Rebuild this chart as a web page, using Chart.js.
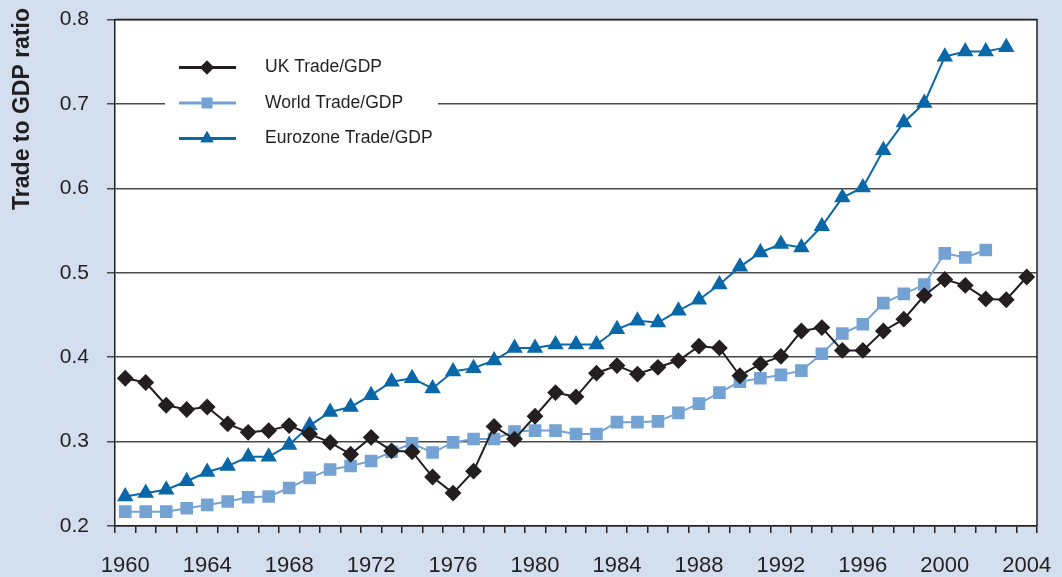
<!DOCTYPE html>
<html>
<head>
<meta charset="utf-8">
<script src="https://cdn.jsdelivr.net/npm/chart.js@4"></script>
<style>
  html, body { margin: 0; padding: 0; background: #d3dfee; }
  #wrap { width: 1062px; height: 577px; }
</style>
</head>
<body>
<div id="wrap"><canvas id="tradeChart" width="1062" height="577"></canvas></div>
<script>
/* =======================
   DATA
======================= */
const years = [];
for (let y = 1960; y <= 2004; y++) years.push(String(y));

const ukTrade = [
  0.375, 0.370, 0.343, 0.338, 0.341, 0.321, 0.311, 0.313, 0.319, 0.309,
  0.299, 0.285, 0.305, 0.289, 0.288, 0.258, 0.239, 0.265, 0.318, 0.303,
  0.330, 0.358, 0.353, 0.381, 0.390, 0.380, 0.388, 0.396, 0.413, 0.411,
  0.378, 0.392, 0.401, 0.431, 0.435, 0.408, 0.408, 0.431, 0.445, 0.473,
  0.492, 0.485, 0.469, 0.468, 0.495
];

const worldTrade = [
  0.217, 0.217, 0.217, 0.221, 0.225, 0.229, 0.234, 0.235, 0.245, 0.257,
  0.267, 0.271, 0.277, 0.288, 0.298, 0.287, 0.299, 0.303, 0.303, 0.312,
  0.313, 0.313, 0.309, 0.309, 0.323, 0.323, 0.324, 0.334, 0.345, 0.358,
  0.371, 0.375, 0.379, 0.384, 0.404, 0.428, 0.439, 0.464, 0.475, 0.486,
  0.523, 0.518, 0.527, null, null
];

const euroTrade = [
  0.235, 0.239, 0.243, 0.253, 0.264, 0.271, 0.282, 0.282, 0.296, 0.319,
  0.335, 0.341, 0.355, 0.371, 0.375, 0.363, 0.383, 0.387, 0.396, 0.411,
  0.411, 0.415, 0.415, 0.415, 0.433, 0.443, 0.441, 0.455, 0.468, 0.486,
  0.507, 0.524, 0.534, 0.530, 0.555, 0.589, 0.601, 0.645, 0.678, 0.701,
  0.756, 0.762, 0.762, 0.767, null
];

const yTicks = [0.2, 0.3, 0.4, 0.5, 0.6, 0.7, 0.8];
const labelYears = ["1960", "1964", "1968", "1972", "1976", "1980", "1984",
  "1988", "1992", "1996", "2000", "2004"];
const yTitle = "Trade to GDP ratio";

const FONT = "'Liberation Sans', Arial, sans-serif";

/* =======================
   PLUGINS
======================= */
const plotBackground = {
  id: "plotBackground",
  beforeDraw(chart) {
    const { ctx, chartArea } = chart;
    ctx.save();
    ctx.fillStyle = "#d3dfee";
    ctx.fillRect(0, 0, chart.width, chart.height);
    ctx.fillStyle = "#ffffff";
    ctx.fillRect(chartArea.left, chartArea.top,
      chartArea.right - chartArea.left, chartArea.bottom - chartArea.top);
    ctx.restore();
  },
  afterDraw(chart) {
    const { ctx, chartArea } = chart;
    ctx.save();
    ctx.strokeStyle = "#231f20";
    ctx.lineWidth = 1.5;
    ctx.beginPath();
    ctx.moveTo(chartArea.left, chartArea.top);
    ctx.lineTo(chartArea.right, chartArea.top);
    ctx.lineTo(chartArea.right, chartArea.bottom);
    ctx.stroke();

    // axis title, top-aligned like the original
    ctx.translate(22.5, 8);
    ctx.rotate(-Math.PI / 2);
    ctx.fillStyle = "#231f20";
    ctx.font = "bold 23px " + FONT;
    ctx.textAlign = "right";
    ctx.textBaseline = "middle";
    ctx.fillText(yTitle, 0, 0);
    ctx.restore();
  }
};

// legend sits inside the plot, on a white box
const insideLegend = {
  id: "insideLegend",
  afterDatasetsDraw(chart) {
    const { ctx, chartArea } = chart;
    const x0 = chartArea.left + 50;
    const top = chartArea.top + 30;
    ctx.save();
    ctx.fillStyle = "#ffffff";
    ctx.fillRect(x0, top, 273, 115);

    chart.data.datasets.forEach((ds, i) => {
      const y = chartArea.top + 48 + i * 35.5;
      const lx = chartArea.left + 64;
      ctx.strokeStyle = ds.borderColor;
      ctx.lineWidth = ds.borderWidth + 1;
      ctx.beginPath();
      ctx.moveTo(lx, y);
      ctx.lineTo(lx + 57, y);
      ctx.stroke();
      ctx.fillStyle = ds.pointBackgroundColor;
      Chart.helpers.drawPoint(ctx, {
        pointStyle: ds.pointStyle,
        radius: ds.pointRadius,
        borderWidth: 0
      }, lx + 28, y);
      ctx.fill();

      ctx.fillStyle = "#231f20";
      ctx.font = "17.5px " + FONT;
      ctx.textBaseline = "middle";
      ctx.fillText(ds.label, chartArea.left + 150, y);
    });
    ctx.restore();
  }
};

/* =======================
   CHART
======================= */
new Chart(document.getElementById("tradeChart"), {
  type: "line",
  data: {
    labels: years,
    datasets: [
      {
        label: "UK Trade/GDP",
        data: ukTrade,
        borderColor: "#231f20",
        backgroundColor: "#231f20",
        pointBackgroundColor: "#231f20",
        pointBorderColor: "#231f20",
        pointStyle: "rectRot",
        pointRadius: 7,
        borderWidth: 2,
        order: 1
      },
      {
        label: "World Trade/GDP",
        data: worldTrade,
        borderColor: "#74a3d3",
        backgroundColor: "#74a3d3",
        pointBackgroundColor: "#74a3d3",
        pointBorderColor: "#74a3d3",
        pointStyle: "rect",
        pointRadius: 7.5,
        borderWidth: 2,
        order: 2
      },
      {
        label: "Eurozone Trade/GDP",
        data: euroTrade,
        borderColor: "#0a68a9",
        backgroundColor: "#0a68a9",
        pointBackgroundColor: "#0a68a9",
        pointBorderColor: "#0a68a9",
        pointStyle: "triangle",
        pointRadius: 7.5,
        borderWidth: 2,
        order: 3
      }
    ]
  },
  options: {
    responsive: false,
    animation: false,
    spanGaps: false,
    layout: { padding: { left: 0, right: 25, top: 19.5, bottom: 0 } },
    plugins: {
      legend: { display: false },
      tooltip: { enabled: false }
    },
    elements: { line: { tension: 0 }, point: { borderWidth: 0 } },
    scales: {
      x: {
        type: "category",
        offset: true,
        grid: {
          offset: true,
          drawOnChartArea: false,
          drawTicks: true,
          tickLength: 7,
          color: "#231f20",
          lineWidth: 1.5
        },
        border: { color: "#231f20", width: 1.5 },
        ticks: {
          autoSkip: false,
          maxRotation: 0,
          color: "#231f20",
          padding: 20,
          font: { family: FONT, size: 22 },
          callback(value) {
            const lab = this.getLabelForValue(value);
            return labelYears.includes(lab) ? lab : "";
          }
        },
        afterFit(scale) {
          scale.height = 51;
          scale.paddingLeft = 0;
          scale.paddingRight = 0;
        }
      },
      y: {
        min: 0.2,
        max: 0.8,
        afterBuildTicks(scale) {
          scale.ticks = yTicks.map(v => ({ value: v }));
        },
        grid: {
          color: "#4a4a4a",
          lineWidth: 1.5,
          drawTicks: true,
          tickLength: 8
        },
        border: { color: "#231f20", width: 1.5 },
        ticks: {
          color: "#231f20",
          padding: 18,
          font: { family: FONT, size: 21 },
          callback(value) { return value.toFixed(1); }
        },
        afterFit(scale) {
          scale.width = 115;
          scale.paddingTop = 0;
          scale.paddingBottom = 0;
        }
      }
    }
  },
  plugins: [plotBackground, insideLegend]
});
</script>
</body>
</html>
